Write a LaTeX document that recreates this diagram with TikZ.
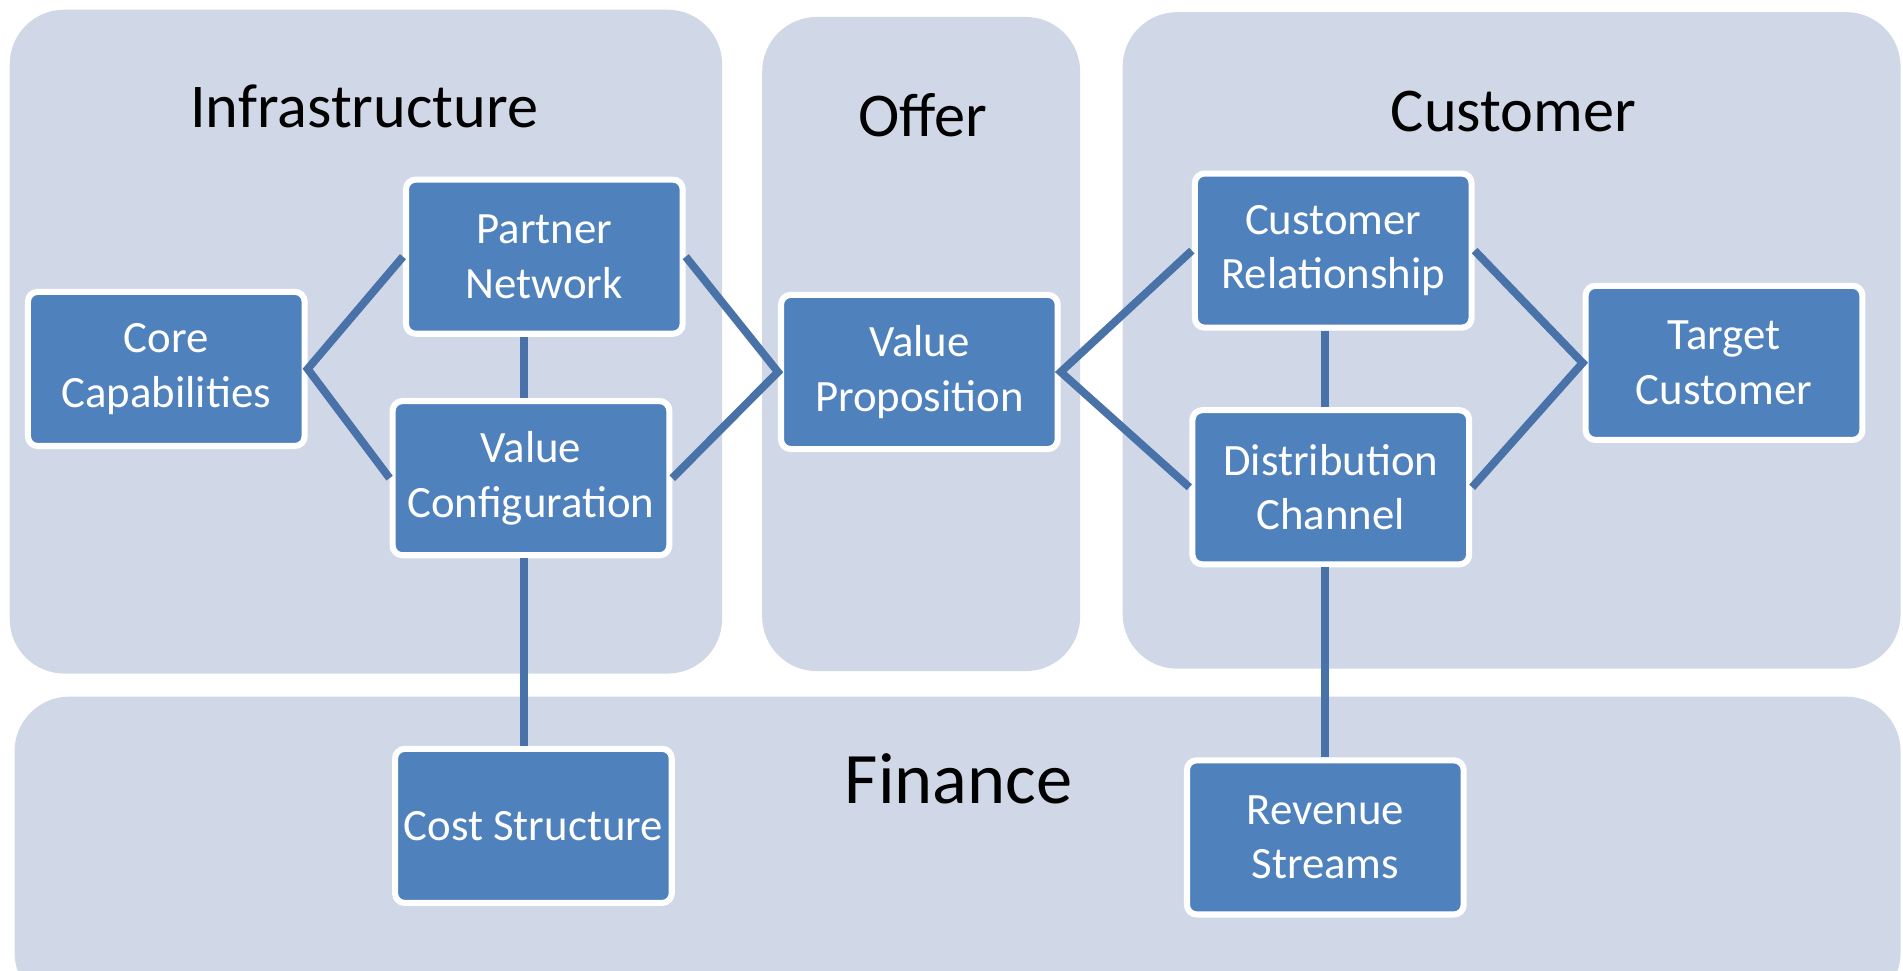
\documentclass[tikz,border=0pt]{standalone}
\usepackage{xcolor}
\usepackage{fontspec}
\setmainfont{Carlito}
\usepackage{tikz}
\usetikzlibrary{calc}

\definecolor{panelfill}{HTML}{D0D8E8}
\definecolor{boxfill}{HTML}{4F81BD}
\definecolor{linkcol}{HTML}{4872A8}

\tikzset{
  panel/.style={fill=panelfill, draw=none, rounded corners=0.45cm},
  block/.style={fill=boxfill, draw=white, line width=0.05cm, rounded corners=0.08cm,
    minimum width=2.28cm, minimum height=1.27cm, align=center, text=white,
    font=\fontsize{10.5}{12.8}\selectfont, inner sep=0pt},
  link/.style={draw=linkcol, line width=0.065cm},
  paneltitle/.style={font=\fontsize{14.6}{16}\selectfont, text=black}
}

\begin{document}
\begin{tikzpicture}
        \useasboundingbox (0.000000,0.000000) rectangle (15.680000,8.000000);
        \clip (0.000000,0.000000) rectangle (15.680000,8.000000);
        {\footnotesize

        % Drawing panels
        \fill [panel] (0.080000,2.450000) rectangle (5.950000,7.920000);%
        \fill [panel] (6.280000,2.470000) rectangle (8.900000,7.860000);%
        \fill [panel] (9.250000,2.490000) rectangle (15.660000,7.900000);%
        \fill [panel] (0.120000,-0.300000) rectangle (15.660000,2.260000);%

        % Panel titles
        \node [paneltitle] (tinfra) at (3.000000,7.120000) {Infrastructure};%
        \node [paneltitle] (toffer) at (7.600000,7.050000) {Offer};%
        \node [paneltitle] (tcust) at (12.470000,7.080000) {Customer};%
        \node [paneltitle, font=\fontsize{17}{19}\selectfont] (tfin) at (7.900000,1.580000) {Finance};%

        % Infrastructure blocks
        \node [block] (cc) at (1.370000,4.960000) {Core\\Capabilities};%
        \node [block] (pn) at (4.485000,5.885000) {Partner\\Network};%
        \node [block] (vc) at (4.375000,4.060000) {Value\\Configuration};%

        % Offer block
        \node [block] (vp) at (7.575000,4.935000) {Value\\Proposition};%

        % Customer blocks
        \node [block] (cr) at (10.985000,5.935000) {Customer\\Relationship};%
        \node [block] (dc) at (10.965000,3.985000) {Distribution\\Channel};%
        \node [block] (tc) at (14.205000,5.010000) {Target\\Customer};%

        % Finance blocks
        \node [block] (cs) at (4.395000,1.195000) {Cost Structure};%
        \node [block] (rs) at (10.920000,1.100000) {Revenue\\Streams};%

        % Drawing links on the left
        \draw [link] (pn.west) -- (cc.east) -- (vc.west);%
        \draw [link] (pn.east) -- (vp.west) -- (vc.east);%
        \draw [link] ([xshift=-0.06cm]vc.north) -- ([xshift=-0.06cm]vc.north |- pn.south);%
        \draw [link] ([xshift=-0.06cm]vc.south) -- ([xshift=-0.06cm]vc.south |- cs.north);%

        % Drawing links on the right
        \draw [link] (rs.north |- dc.north) -- (rs.north |- cr.south);%
        \draw [link] (cr.west) -- (vp.east) -- (dc.west);%
        \draw [link] (cr.east) -- (tc.west) -- (dc.east);%
        \draw [link] (rs.north) -- (rs.north |- dc.south);%
        }
\end{tikzpicture}
\end{document}
